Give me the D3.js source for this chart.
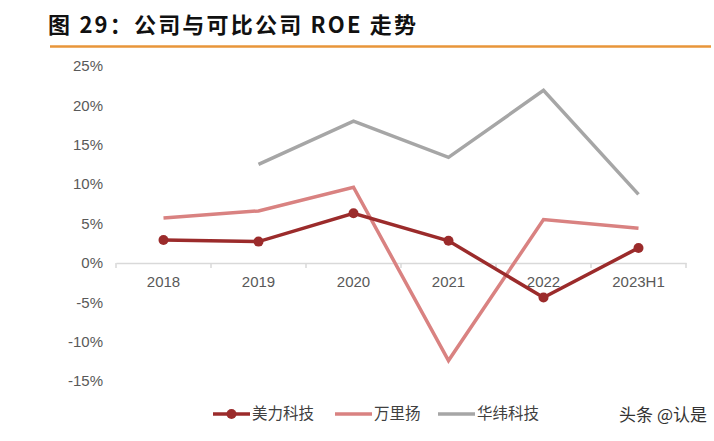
<!DOCTYPE html>
<html lang="zh">
<head>
<meta charset="UTF-8">
<title>公司与可比公司 ROE 走势</title>
<style>
  body { margin: 0; background: #fff; }
  svg text { font-family: "Liberation Sans", Arial, "Noto Sans CJK SC", sans-serif; }
  .title { font-family: "Noto Sans CJK SC", sans-serif; font-weight: 700; }
  .cjk { font-family: "Noto Sans CJK SC", sans-serif; }
</style>
</head>
<body>
<svg id="chart" width="714" height="441"></svg>
<script src="https://d3js.org/d3.v7.min.js"></script>
<script>
// data (ROE, %)
var years = ["2018", "2019", "2020", "2021", "2022", "2023H1"];
var meili = [2.9, 2.7, 6.3, 2.8, -4.4, 1.9];
var wanliyang = [5.7, 6.6, 9.6, -12.4, 5.5, 4.4];
var huawei = [null, 12.5, 18.0, 13.4, 21.9, 8.7];
var yTicks = [-15, -10, -5, 0, 5, 10, 15, 20, 25];

var series = [
  { name: "美力科技", values: meili, color: "#9B2B2B", marker: true },
  { name: "万里扬", values: wanliyang, color: "#D98281", marker: false },
  { name: "华纬科技", values: huawei, color: "#A6A6A6", marker: false }
];

var svg = d3.select("#chart");

// title + orange rule
svg.append("text").attr("class", "title")
  .attr("x", 48).attr("y", 33)
  .attr("font-size", 22).attr("letter-spacing", 2.2).attr("fill", "#111")
  .text("图 29：公司与可比公司 ROE 走势");
svg.append("line")
  .attr("x1", 50).attr("x2", 711).attr("y1", 46.5).attr("y2", 46.5)
  .attr("stroke", "#E8963A").attr("stroke-width", 2.5);

var x = d3.scaleBand().domain(years).range([116, 686]);
var y = d3.scaleLinear().domain([-15, 25]).range([381, 66]);

// y labels (no axis line)
svg.append("g").selectAll("text")
  .data(yTicks).enter().append("text")
  .attr("x", 103).attr("y", function(d) { return y(d); })
  .attr("dy", "0.35em")
  .attr("text-anchor", "end")
  .attr("font-size", 15).attr("fill", "#595959")
  .text(function(d) { return d + "%"; });

// x axis at 0
var xAxis = svg.append("g")
  .attr("transform", "translate(0," + y(0) + ")")
  .call(d3.axisBottom(x).tickSize(0).tickPadding(13));
xAxis.select(".domain").attr("stroke", "#D9D9D9").attr("stroke-width", 1.5);
xAxis.selectAll("text").attr("font-size", 15).attr("fill", "#595959")
  .attr("font-family", "'Liberation Sans', Arial, sans-serif");
// band boundary ticks
xAxis.selectAll(".bt")
  .data(d3.range(years.length + 1)).enter().append("line")
  .attr("x1", function(i) { return x.range()[0] + i * x.step(); })
  .attr("x2", function(i) { return x.range()[0] + i * x.step(); })
  .attr("y1", 0).attr("y2", 5)
  .attr("stroke", "#D9D9D9").attr("stroke-width", 1.5);

var cx = function(i) { return x(years[i]) + x.bandwidth() / 2; };
var line = d3.line()
  .defined(function(d) { return d != null; })
  .x(function(d, i) { return cx(i); })
  .y(function(d) { return y(d); });

// draw order: gray, light red, dark red on top
[series[2], series[1], series[0]].forEach(function(s) {
  svg.append("path")
    .datum(s.values)
    .attr("fill", "none")
    .attr("stroke", s.color)
    .attr("stroke-width", 3.5)
    .attr("stroke-linejoin", "miter")
    .attr("d", line);
  if (s.marker) {
    svg.append("g").selectAll("circle")
      .data(s.values).enter().append("circle")
      .attr("cx", function(d, i) { return cx(i); })
      .attr("cy", function(d) { return y(d); })
      .attr("r", 5)
      .attr("fill", s.color);
  }
});

// legend
var legX = [213, 335, 438];
var legend = svg.append("g");
series.forEach(function(s, i) {
  var g = legend.append("g").attr("transform", "translate(" + legX[i] + ",414)");
  g.append("line").attr("x1", 0).attr("x2", 37)
    .attr("stroke", s.color).attr("stroke-width", 3.5);
  if (s.marker) g.append("circle").attr("cx", 18.5).attr("r", 5).attr("fill", s.color);
  g.append("text").attr("class", "cjk")
    .attr("x", 39).attr("dy", "0.35em")
    .attr("font-size", 15.5).attr("fill", "#404040")
    .text(s.name);
});

// watermark
svg.append("text").attr("class", "cjk")
  .attr("x", 707).attr("y", 421)
  .attr("text-anchor", "end")
  .attr("font-size", 17).attr("fill", "#333")
  .text("头条 @认是");
</script>
</body>
</html>
